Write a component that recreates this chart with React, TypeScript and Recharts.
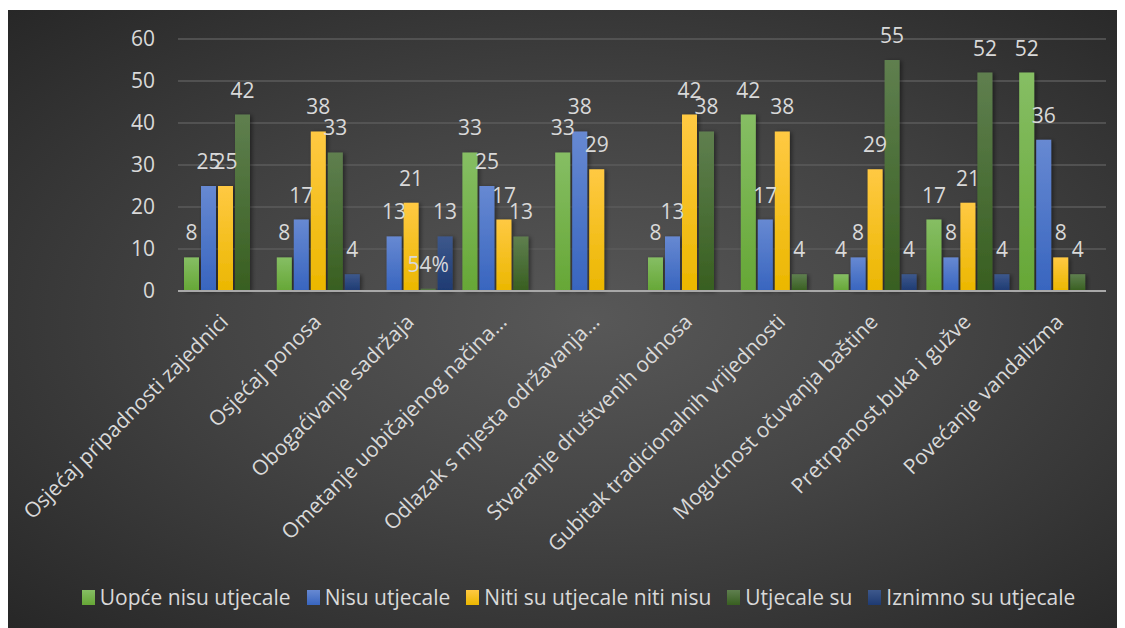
import { BarChart, Bar, XAxis, YAxis, CartesianGrid, LabelList, Legend } from 'recharts'

const categories = [
  'Osjećaj pripadnosti zajednici',
  'Osjećaj ponosa',
  'Obogaćivanje sadržaja',
  'Ometanje uobičajenog načina…',
  'Odlazak s mjesta održavanja…',
  'Stvaranje društvenih odnosa',
  'Gubitak tradicionalnih vrijednosti',
  'Mogućnost očuvanja baštine',
  'Pretrpanost,buka i gužve',
  'Povećanje vandalizma',
]

const uopceNisu = [8, 8, 0, 33, 33, 8, 42, 4, 17, 52]
const nisu = [25, 17, 13, 25, 38, 13, 17, 8, 8, 36]
const niti = [25, 38, 21, 17, 29, 42, 38, 29, 21, 8]
const utjecaleSu = [42, 33, 0.54, 13, 0, 38, 4, 55, 52, 4]
const iznimno = [0, 4, 13, 0, 0, 0, 0, 4, 4, 0]

const yTicks = [0, 10, 20, 30, 40, 50, 60]

const series = [
  { key: 'uopce', name: 'Uopće nisu utjecale', values: uopceNisu, top: '#86be64', bottom: '#66a736' },
  { key: 'nisu', name: 'Nisu utjecale', values: nisu, top: '#6789d2', bottom: '#3865bf' },
  { key: 'niti', name: 'Niti su utjecale niti nisu', values: niti, top: '#ffc943', bottom: '#ebb700' },
  { key: 'utjecale', name: 'Utjecale su', values: utjecaleSu, top: '#5f7f4f', bottom: '#385f20' },
  { key: 'iznimno', name: 'Iznimno su utjecale', values: iznimno, top: '#3d588c', bottom: '#1e3a72' },
]

const data = categories.map((name, i) => {
  const row: Record<string, string | number> = { name }
  series.forEach((s) => (row[s.key] = s.values[i]))
  return row
})

const TEXT = '#d9d9d9'
const FS = 21

function fmt(v: number) {
  // the tiny bar in the source is labelled as a percentage
  return v < 1 ? `${Math.round(v * 100)}%` : String(v)
}

function BarLabel(props: any) {
  const { x, y, width, value } = props
  if (!value) return null
  return (
    <text x={x + width / 2} y={y - 17} textAnchor="middle" fill={TEXT} fontSize={FS}>
      {fmt(Number(value))}
    </text>
  )
}

function CategoryTick(props: any) {
  const { x, y, payload } = props
  return (
    <g transform={`translate(${x},${y + 27})`}>
      <text textAnchor="end" transform="rotate(-45)" dy="0.35em" fill={TEXT} fontSize={FS}>
        {payload.value}
      </text>
    </g>
  )
}

function LegendRow() {
  return (
    <div style={{ display: 'flex', justifyContent: 'center', alignItems: 'center', height: 24, gap: 16 }}>
      {series.map((s) => (
        <div key={s.key} style={{ display: 'flex', alignItems: 'center', gap: 5 }}>
          <span
            style={{
              width: 13,
              height: 15,
              background: `linear-gradient(${s.top}, ${s.bottom})`,
              display: 'inline-block',
            }}
          />
          <span style={{ color: TEXT, fontSize: FS, lineHeight: '24px' }}>{s.name}</span>
        </div>
      ))}
    </div>
  )
}

export default function App() {
  return (
    <div
      style={{
        marginTop: 2,
        width: 1117,
        height: 618,
        fontFamily: '"Open Sans", sans-serif',
        background: 'radial-gradient(ellipse at 52% 50%, #585858 0%, #444444 45%, #272727 100%)',
      }}
    >
      <BarChart
        width={1117}
        height={618}
        data={data}
        margin={{ top: 29, right: 19, bottom: 0, left: 0 }}
        barCategoryGap={6}
        barGap={2}
      >
        <defs>
          {series.map((s) => (
            <linearGradient key={s.key} id={`g-${s.key}`} x1="0" y1="0" x2="0" y2="1">
              <stop offset="0%" stopColor={s.top} />
              <stop offset="100%" stopColor={s.bottom} />
            </linearGradient>
          ))}
          <filter id="shadow" x="-20%" y="-5%" width="160%" height="115%">
            <feDropShadow dx="2" dy="1" stdDeviation="2" floodColor="#000" floodOpacity="0.45" />
          </filter>
        </defs>
        <CartesianGrid vertical={false} stroke="#5b5b5b" strokeWidth={1.5} />
        <XAxis
          dataKey="name"
          interval={0}
          height={337}
          tickLine={false}
          tickSize={0}
          tickMargin={0}
          axisLine={{ stroke: '#a8a8a8', strokeWidth: 2 }}
          tick={<CategoryTick />}
        />
        <YAxis
          width={170}
          domain={[0, 60]}
          ticks={yTicks}
          axisLine={false}
          tickLine={false}
          tickSize={0}
          tickMargin={23}
          tick={{ fill: TEXT, fontSize: FS }}
        />
        <Legend
          verticalAlign="middle"
          align="center"
          wrapperStyle={{ top: 575, left: 12, width: 1117 }}
          content={() => <LegendRow />}
        />
        {series.map((s) => (
          <Bar
            key={s.key}
            dataKey={s.key}
            name={s.name}
            fill={`url(#g-${s.key})`}
            filter="url(#shadow)"
            isAnimationActive={false}
          >
            <LabelList dataKey={s.key} content={<BarLabel />} />
          </Bar>
        ))}
      </BarChart>
    </div>
  )
}
